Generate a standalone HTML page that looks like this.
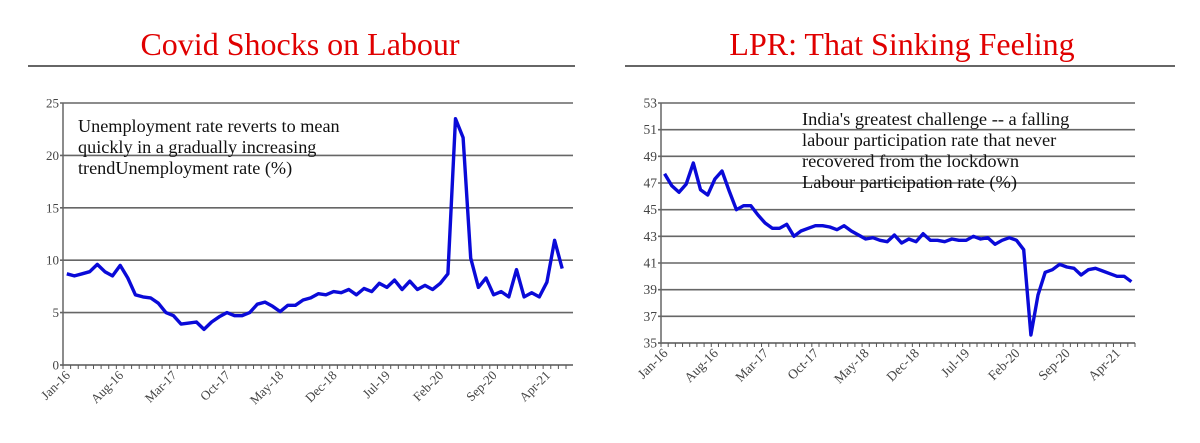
<!DOCTYPE html>
<html><head><meta charset="utf-8"><style>
body{margin:0;background:#fff;width:1200px;height:438px;overflow:hidden}
svg{font-family:"Liberation Serif",serif}
</style></head><body>
<svg id="s" width="1200" height="438">
<text x="300" y="55" text-anchor="middle" font-size="32" fill="#e00000">Covid Shocks on Labour</text>
<line x1="28" y1="66" x2="575" y2="66" stroke="#333" stroke-width="1.5"/>
<text x="902" y="55" text-anchor="middle" font-size="32" fill="#e00000">LPR: That Sinking Feeling</text>
<line x1="625" y1="66" x2="1175" y2="66" stroke="#333" stroke-width="1.5"/>
<g id="left"></g>
<g id="right"></g>
<text font-size="18.2" fill="#111"><tspan x="78" y="132">Unemployment rate reverts to mean</tspan><tspan x="78" y="153">quickly in a gradually increasing</tspan><tspan x="78" y="174">trendUnemployment rate (%)</tspan></text>
<text font-size="18.4" fill="#111"><tspan x="802" y="125">India's greatest challenge -- a falling</tspan><tspan x="802" y="146">labour participation rate that never</tspan><tspan x="802" y="167">recovered from the lockdown</tspan><tspan x="802" y="188">Labour participation rate (%)</tspan></text>
</svg>
<script>
const xLabels=["Jan-16","Aug-16","Mar-17","Oct-17","May-18","Dec-18","Jul-19","Feb-20","Sep-20","Apr-21"];
const unemployment=[8.7,8.5,8.7,8.9,9.6,8.9,8.5,9.5,8.3,6.7,6.5,6.4,5.9,5.0,4.7,3.9,4.0,4.1,3.4,4.1,4.6,5.0,4.7,4.7,5.0,5.8,6.0,5.6,5.1,5.7,5.7,6.2,6.4,6.8,6.7,7.0,6.9,7.2,6.7,7.3,7.0,7.8,7.4,8.1,7.2,8.0,7.2,7.6,7.2,7.8,8.7,23.5,21.7,10.2,7.4,8.3,6.7,7.0,6.5,9.1,6.5,6.9,6.5,7.9,11.9,9.2];
const lpr=[47.7,46.8,46.3,46.9,48.5,46.5,46.1,47.3,47.9,46.4,45.0,45.3,45.3,44.6,44.0,43.6,43.6,43.9,43.0,43.4,43.6,43.8,43.8,43.7,43.5,43.8,43.4,43.1,42.8,42.9,42.7,42.6,43.1,42.5,42.8,42.6,43.2,42.7,42.7,42.6,42.8,42.7,42.7,43.0,42.8,42.9,42.4,42.7,42.9,42.7,42.0,35.6,38.6,40.3,40.5,40.9,40.7,40.6,40.1,40.5,40.6,40.4,40.2,40.0,40.0,39.6];
const leftTicks=[0,5,10,15,20,25];
const rightTicks=[35,37,39,41,43,45,47,49,51,53];
const NS="http://www.w3.org/2000/svg";
function mk(g,tag,attrs){const e=document.createElementNS(NS,tag);for(const k in attrs)e.setAttribute(k,attrs[k]);g.appendChild(e);return e;}
function chart(gid,data,ticks,x0,x1,yTop,yBot,gridRight,fs){
  const g=document.getElementById(gid);
  const vmin=ticks[0],vmax=ticks[ticks.length-1];
  const n=data.length,w=(x1-x0)/n;
  const X=i=>x0+(i+0.5)*w;
  const Y=v=>yBot-(v-vmin)/(vmax-vmin)*(yBot-yTop);
  ticks.forEach(t=>{
    const l=mk(g,'line',{x1:x0-3,x2:gridRight,y1:Y(t),y2:Y(t),stroke:t===vmin?'#555':'#666','stroke-width':t===vmin?1.5:1.6});
    
    
    const tx=mk(g,'text',{x:x0-4,y:Y(t)+4.5,'text-anchor':'end','font-size':fs,fill:'#444'});
    tx.textContent=t;
    
    
  });
  const ax=mk(g,'line',{x1:x0,x2:x0,y1:yTop,y2:yBot,stroke:'#666','stroke-width':1.5});
  
  
  for(let i=0;i<=n;i++){
    const t=mk(g,'line',{x1:x0+i*w,x2:x0+i*w,y1:yBot,y2:yBot+4,stroke:'#555','stroke-width':1});
    
    
  }
  xLabels.forEach((lab,k)=>{
    const xi=X(k*7)+4,yi=yBot+11;
    const t=mk(g,'text',{x:xi,y:yi,'text-anchor':'end','font-size':fs,fill:'#444',transform:`rotate(-45 ${xi} ${yi})`});
    t.textContent=lab;
    
    
  });
  const p=mk(g,'polyline',{points:data.map((v,i)=>X(i).toFixed(1)+','+Y(v).toFixed(1)).join(' '),fill:'none',stroke:'#0a0ad8','stroke-width':3.4,'stroke-linejoin':'round'});
  
  
}
chart('left',unemployment,leftTicks,63,566,103,365,573,13);
chart('right',lpr,rightTicks,661,1135,103,343,1135,13.5);
</script>
</body></html>
